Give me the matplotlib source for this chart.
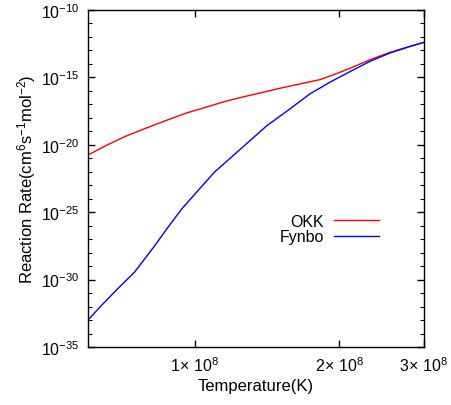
import numpy as np
import matplotlib
matplotlib.use("Agg")
import matplotlib.pyplot as plt
from matplotlib.ticker import FixedLocator, FixedFormatter, NullFormatter

plt.rcParams['font.family'] = ['Liberation Sans', 'DejaVu Sans']
plt.rcParams['mathtext.fontset'] = 'custom'
plt.rcParams['mathtext.rm'] = 'Liberation Sans'
plt.rcParams['mathtext.it'] = 'Liberation Sans:italic'
plt.rcParams['mathtext.bf'] = 'Liberation Sans:bold'

# Data
T_okk = [6.0e7, 6.53e7, 7.18e7, 7.90e7, 8.70e7, 9.58e7, 1.054e8, 1.160e8, 1.277e8, 1.406e8,
         1.503e8, 1.654e8, 1.821e8, 1.939e8, 2.103e8, 2.315e8, 2.549e8, 2.805e8, 3.0e8]
rate_okk = [1.75e-21, 8.5e-21, 4.27e-20, 1.66e-19, 6.17e-19, 2.19e-18, 6.03e-18, 1.70e-17, 3.98e-17, 8.71e-17,
            1.55e-16, 3.24e-16, 6.76e-16, 1.51e-15, 4.68e-15, 2.04e-14, 7.24e-14, 2.04e-13, 3.98e-13]

T_fynbo = [6.0e7, 6.39e7, 6.91e7, 7.5e7, 8.25e7, 8.80e7, 9.4e7, 1.016e8, 1.10e8, 1.2e8,
           1.41e8, 1.578e8, 1.736e8, 1.911e8, 2.103e8, 2.315e8, 2.549e8, 2.805e8, 3.0e8]
rate_fynbo = [1.0e-33, 1.15e-32, 2.0e-31, 3.63e-30, 3.09e-28, 7.59e-27, 1.74e-25, 3.98e-24, 9.55e-23, 1.48e-21,
              2.45e-19, 4.57e-18, 5.89e-17, 4.37e-16, 2.63e-15, 1.55e-14, 6.46e-14, 1.95e-13, 3.98e-13]

xticks = [1e8, 2e8, 3e8]
xticklabels = [r'$1\!\times\,10^{8}$', r'$2\!\times\,10^{8}$', r'$3\!\times\,10^{8}$']
yticks = [1e-35, 1e-30, 1e-25, 1e-20, 1e-15, 1e-10]
yticklabels = [r'$10^{-35}$', r'$10^{-30}$', r'$10^{-25}$', r'$10^{-20}$', r'$10^{-15}$', r'$10^{-10}$']

fig = plt.figure(figsize=(4.51, 4.06), dpi=100)
ax = fig.add_axes([88/451, 1-348/406, (424-88)/451, (348-11)/406])

ax.plot(T_okk, rate_okk, color='#ff0000', lw=1.0, label='OKK')
ax.plot(T_fynbo, rate_fynbo, color='#0000ff', lw=1.0, label='Fynbo')

ax.set_xscale('log')
ax.set_yscale('log')
ax.set_xlim(6e7, 3e8)
ax.set_ylim(1e-35, 1e-10)

ax.xaxis.set_major_locator(FixedLocator(xticks))
ax.xaxis.set_major_formatter(FixedFormatter(xticklabels))
ax.xaxis.set_minor_locator(FixedLocator([]))
ax.yaxis.set_major_locator(FixedLocator(yticks))
ax.yaxis.set_major_formatter(FixedFormatter(yticklabels))
ax.yaxis.set_minor_locator(FixedLocator([10.0**k for k in range(-35, -9)]))
ax.yaxis.set_minor_formatter(NullFormatter())

ax.tick_params(which='both', direction='in', top=True, right=True, labelsize=11.5, colors='black')
ax.tick_params(which='major', length=5, width=1)
ax.tick_params(which='minor', length=3, width=0.8)
ax.tick_params(axis='x', pad=6)
ax.tick_params(axis='y', pad=6)
for s in ax.spines.values():
    s.set_linewidth(1.0)

ax.set_xlabel('Temperature(K)', fontsize=12, labelpad=3)
ax.set_ylabel(r'Reaction Rate(cm$^{6}$s$^{-1}$mol$^{-2}$)', fontsize=12, labelpad=2)

leg = ax.legend(loc='center right', bbox_to_anchor=((379-88)/336, (348-230)/337), frameon=False,
                markerfirst=False, fontsize=11.5, handlelength=2.8, handletextpad=0.65,
                labelspacing=0.05, borderaxespad=0, borderpad=0)
for col in leg._legend_handle_box.get_children():
    col.align = 'right'

fig.savefig('out.png', dpi=100)
